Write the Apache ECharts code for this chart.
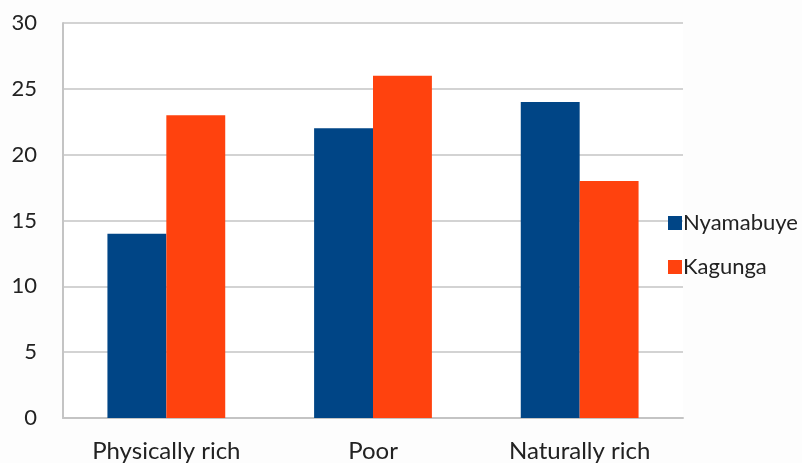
<!DOCTYPE html>
<html><head><meta charset="utf-8">
<script src="https://cdn.jsdelivr.net/npm/echarts@6/dist/echarts.min.js"></script>
<style>html,body{margin:0;padding:0;background:#fdfdfd;}#c{width:802px;height:463px;}</style>
</head><body><div id="c"></div>
<script>
const categories = ['Physically rich', 'Poor', 'Naturally rich'];
const nyamabuye = [14, 22, 24];
const kagunga = [23, 26, 18];
const yTicks = [0, 5, 10, 15, 20, 25, 30];

const chart = echarts.init(document.getElementById('c'));
const font = 'Lato, "Open Sans", sans-serif';
chart.setOption({
  animation: false,
  backgroundColor: '#fdfdfd',
  textStyle: { fontFamily: font },
  grid: { left: 63, top: 23, width: 620, height: 395, backgroundColor: '#ffffff', show: true, borderWidth: 0 },
  legend: {
    orient: 'vertical', left: 663, top: 207, itemGap: 22, itemWidth: 14, itemHeight: 14,
    icon: 'rect', z: 10,
    textStyle: { fontSize: 22, color: '#222', fontFamily: font, padding: [0, 0, 0, -4] },
    data: ['Nyamabuye', 'Kagunga']
  },
  xAxis: {
    type: 'category', data: categories,
    axisLine: { lineStyle: { color: '#c4c4c4', width: 2 } },
    axisTick: { show: false },
    axisLabel: { fontSize: 24, color: '#222', margin: 21, fontFamily: font }
  },
  yAxis: {
    type: 'value', min: yTicks[0], max: yTicks[yTicks.length - 1], interval: 5,
    axisLine: { show: true, lineStyle: { color: '#c4c4c4', width: 2 } },
    axisTick: { show: false },
    splitLine: { lineStyle: { color: '#c4c4c4', width: 1.5 } },
    axisLabel: { fontSize: 22, color: '#222', margin: 26, fontFamily: font }
  },
  series: [
    { name: 'Nyamabuye', type: 'bar', data: nyamabuye, barGap: '0%', barCategoryGap: '43%', itemStyle: { color: '#004586' } },
    { name: 'Kagunga', type: 'bar', data: kagunga, itemStyle: { color: '#ff420e' } }
  ]
});
</script></body></html>
